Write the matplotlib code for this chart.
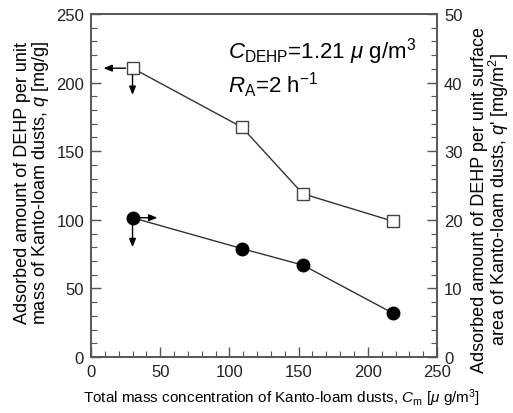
import matplotlib
matplotlib.use('Agg')
import matplotlib.pyplot as plt
from matplotlib.ticker import MultipleLocator

plt.rcParams['font.family'] = ['Liberation Sans', 'DejaVu Sans']
plt.rcParams['mathtext.fontset'] = 'custom'
plt.rcParams['mathtext.rm'] = 'Liberation Sans'
plt.rcParams['mathtext.it'] = 'Liberation Sans:italic'
plt.rcParams['mathtext.bf'] = 'Liberation Sans:bold'

# total mass concentration of dusts [ug/m3]
cm = [30, 109, 153, 218]
# adsorbed per unit mass q [mg/g] (left axis, open squares)
q_mass = [210.5, 167.5, 119.0, 99.0]
# adsorbed per unit surface q' [mg/m2] (right axis, filled circles)
q_surf = [20.3, 15.8, 13.4, 6.4]

LINE = '#333333'
AXC = '#555555'

fig = plt.figure(figsize=(5.13, 4.14), dpi=100)
ax = fig.add_axes([0.1774, 0.1353, 0.6745, 0.8285])
ax2 = ax.twinx()

ax.plot(cm, q_mass, '-', color=LINE, lw=1.0, marker='s', ms=8.5,
        mfc='white', mec='#444444', mew=1.0, zorder=3)
ax2.plot(cm, q_surf, '-', color=LINE, lw=1.0, marker='o', ms=9,
         mfc='black', mec='black', zorder=3)

ax.set_xlim(0, 250)
ax.set_ylim(0, 250)
ax2.set_ylim(0, 50)

ax.xaxis.set_major_locator(MultipleLocator(50))
ax.xaxis.set_minor_locator(MultipleLocator(10))
ax.yaxis.set_major_locator(MultipleLocator(50))
ax.yaxis.set_minor_locator(MultipleLocator(10))
ax2.yaxis.set_major_locator(MultipleLocator(10))
ax2.yaxis.set_minor_locator(MultipleLocator(2))

for a in (ax, ax2):
    a.tick_params(which='both', direction='in', color=AXC, labelsize=12,
                  labelcolor='#222222')
    a.tick_params(which='major', length=7, width=1.0, pad=5)
    a.tick_params(which='minor', length=4, width=0.8)
    for s in a.spines.values():
        s.set_color(AXC)
        s.set_linewidth(1.2)
ax.tick_params(axis='y', right=False)
ax.tick_params(axis='x', top=False)

# arrows pointing to the axis each series belongs to
arw = dict(arrowstyle='-|>,head_length=0.5,head_width=0.2', color='black',
           lw=1.0, shrinkA=5, shrinkB=0)
ax.annotate('', xy=(9, q_mass[0]), xytext=(cm[0], q_mass[0]), arrowprops=arw)
ax.annotate('', xy=(cm[0], 191), xytext=(cm[0], q_mass[0]), arrowprops=arw)
ax2.annotate('', xy=(48, q_surf[0]), xytext=(cm[0], q_surf[0]), arrowprops=arw)
ax2.annotate('', xy=(cm[0], 16.0), xytext=(cm[0], q_surf[0]), arrowprops=arw)

ax.text(0.395, 0.893, r'$C_{\mathrm{DEHP}}$=1.21 $\mu$ g/m$^3$',
        transform=ax.transAxes, fontsize=16, va='center', ha='left')
ax.text(0.395, 0.796, r'$R_{\mathrm{A}}$=2 h$^{-1}$',
        transform=ax.transAxes, fontsize=16, va='center', ha='left')

fig.text(0.063, 0.558,
         'Adsorbed amount of DEHP per unit\nmass of Kanto-loam dusts, $q$ [mg/g]',
         rotation=90, ha='center', va='center', fontsize=13,
         multialignment='center', linespacing=0.95)
fig.text(0.957, 0.517,
         'Adsorbed amount of DEHP per unit surface\n'
         "area of Kanto-loam dusts, $q$' [mg/m$^2$]",
         rotation=90, ha='center', va='center', fontsize=13,
         multialignment='center', linespacing=0.95)
fig.text(0.548, 0.039,
         r'Total mass concentration of Kanto-loam dusts, $C_{\mathrm{m}}$ [$\mu$ g/m$^3$]',
         ha='center', va='center', fontsize=11)

fig.savefig('out.png', dpi=100)
